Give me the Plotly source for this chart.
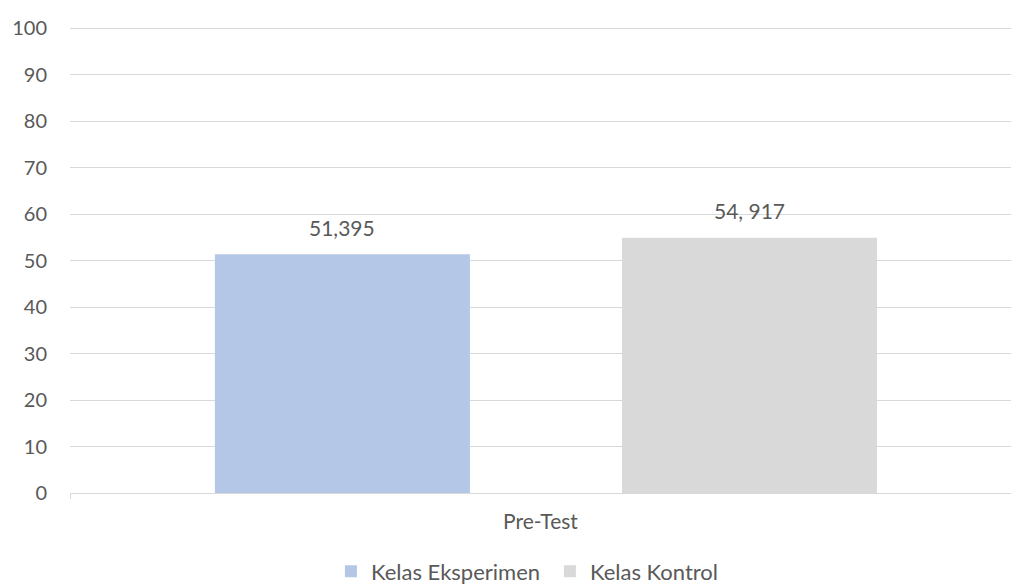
import plotly.graph_objects as go

categories = ["Pre-Test"]
series_names = ["Kelas Eksperimen", "Kelas Kontrol"]
values_eksperimen = [51.395]
values_kontrol = [54.917]
labels_eksperimen = ["51,395"]
labels_kontrol = ["54, 917"]
y_ticks = [0, 10, 20, 30, 40, 50, 60, 70, 80, 90, 100]

colors = ["#B4C7E7", "#D9D9D9"]
font_family = "Lato, 'Open Sans', sans-serif"
text_color = "#595959"
fs = 21

fig = go.Figure()
fig.add_trace(go.Bar(
    x=categories, y=values_eksperimen, name=series_names[0],
    marker=dict(color=colors[0], line=dict(width=0)),
    width=0.271, offset=-0.346,
    hoverinfo="y",
))
fig.add_trace(go.Bar(
    x=categories, y=values_kontrol, name=series_names[1],
    marker=dict(color=colors[1], line=dict(width=0)),
    width=0.271, offset=0.0866,
    hoverinfo="y",
))

# data labels above bars
for vals, labs, off in [(values_eksperimen, labels_eksperimen, -0.346), (values_kontrol, labels_kontrol, 0.0866)]:
    for cat, v, lab in zip(categories, vals, labs):
        fig.add_annotation(
            x=0 + off + 0.271 / 2, y=v, xref="x", yref="y",
            text=lab, showarrow=False, yshift=27,
            font=dict(family=font_family, size=fs, color=text_color),
        )

fig.update_layout(
    width=1011, height=587,
    margin=dict(l=70, r=0, t=26, b=94, autoexpand=False),
    paper_bgcolor="white", plot_bgcolor="white",
    barmode="overlay",
    font=dict(family=font_family, size=fs, color=text_color),
    showlegend=True,
    legend=dict(
        orientation="h", x=0.51, xanchor="center", y=-0.168, yanchor="middle",
        font=dict(family=font_family, size=22, color=text_color),
        traceorder="normal", itemsizing="constant",
        entrywidth=174, entrywidthmode="pixels",
    ),
    xaxis=dict(
        type="category", range=[-0.5, 0.5], automargin=False,
        showgrid=False, showline=False, ticks="outside", tickson="boundaries",
        ticklen=5, tickcolor="#D9D9D9",
        tickfont=dict(family=font_family, size=fs, color=text_color),
        ticklabelstandoff=14,
    ),
    yaxis=dict(
        range=[0, 100.5], tickvals=y_ticks, automargin=False,
        showgrid=True, gridcolor="#D9D9D9", gridwidth=1,
        zeroline=True, zerolinecolor="#D9D9D9", zerolinewidth=1,
        showline=False, ticks="",
        tickfont=dict(family=font_family, size=20, color=text_color),
        ticklabelstandoff=22,
    ),
)

fig.write_html(
    "out.html",
    config={"displayModeBar": False},
    post_script="document.body.style.margin='0';document.body.style.padding='0';",
)
